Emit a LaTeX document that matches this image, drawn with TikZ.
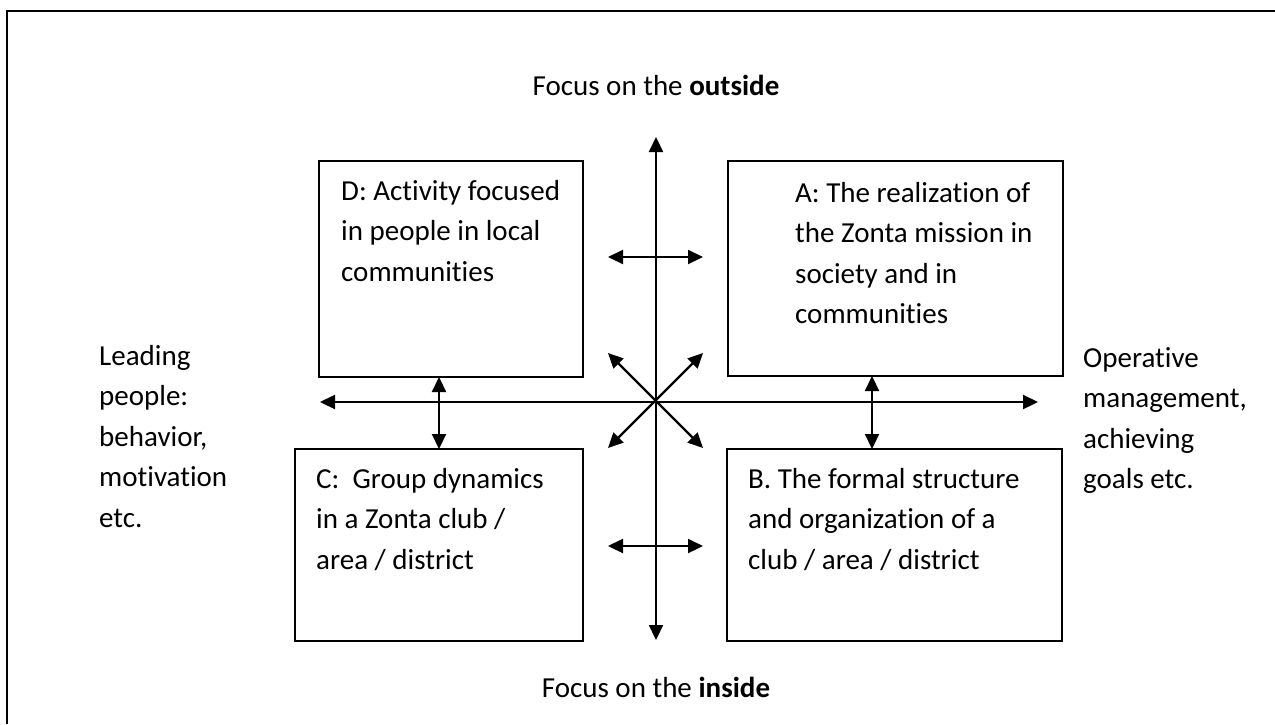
\documentclass[tikz,border=0pt]{standalone}
\usepackage{fontspec}
\setmainfont{Carlito}[Ligatures=NoCommon]
\usetikzlibrary{arrows.meta}
\begin{document}
\begin{tikzpicture}[x=1pt,y=-1pt,
  every node/.style={font=\fontsize{29}{40.5}\selectfont},
  quad/.style={draw,line width=2pt,inner sep=0pt,outer sep=0pt,anchor=north west},
  quadtext/.style={anchor=base west,inner sep=0pt,text width=#1,align=flush left},
  label/.style={anchor=base west,inner sep=0pt,text width=#1,align=flush left},
  dblarrow/.style={line width=2.2pt,{Triangle[length=15pt,width=14pt]}-{Triangle[length=15pt,width=14pt]}},
  frame/.style={line width=2pt}]
\useasboundingbox (0,0) rectangle (1275,724);

% outer frame (only the left and top edges fall on the page)
\coordinate (fbl) at (7,724);
\coordinate (ftl) at (7,11);
\coordinate (ftr) at (1275,11);
\draw[frame] (fbl) -- (ftl) -- (ftr);

% the four quadrant boxes
\node[quad,minimum width=264,minimum height=216] (D) at (319,161) {};
\node[quad,minimum width=335,minimum height=215] (A) at (728,161) {};
\node[quad,minimum width=288,minimum height=192] (C) at (295,449) {};
\node[quad,minimum width=335,minimum height=192] (B) at (727,449) {};

% box texts
\node[quadtext=240] (tD) at (341,200) {D: Activity focused\\in people in local\\communities};
\node[quadtext=260] (tA) at (795,202) {A: The realization of\\the Zonta mission in\\society and in\\communities};
\node[quadtext=260] (tC) at (316,488) {C:\ \ Group dynamics\\in a Zonta club /\\area / district};
\node[quadtext=300] (tB) at (748,488) {B. The formal structure\\and organization of a\\club / area / district};

% side labels
\node[label=170] (lft) at (99,365) {Leading\\people:\\behavior,\\motivation\\etc.};
\node[label=190] (rgt) at (1083,367) {Operative\\management,\\achieving\\goals etc.};

% top and bottom labels
\node[anchor=base,inner sep=0pt] (top) at (656,95) {Focus on the \textbf{outside}};
\node[anchor=base,inner sep=0pt] (bot) at (656,697) {Focus on the \textbf{inside}};

% axes
\coordinate (O) at (656,402);
\coordinate (axN) at (656,137);
\coordinate (axS) at (656,640);
\coordinate (axW) at (320,402);
\coordinate (axE) at (1038,402);
\draw[dblarrow] (axS) -- (axN);
\draw[dblarrow] (axW) -- (axE);

% diagonal arrows through the centre
\coordinate (nw) at (608,353);
\coordinate (ne) at (703,353);
\coordinate (sw) at (608,448);
\coordinate (se) at (703,448);
\draw[dblarrow] (nw) -- (se);
\draw[dblarrow] (ne) -- (sw);

% small horizontal arrows between the upper and lower pairs
\coordinate (uw) at (608,257);
\coordinate (ue) at (703,257);
\coordinate (lw) at (608,546);
\coordinate (le) at (703,546);
\draw[dblarrow] (uw) -- (ue);
\draw[dblarrow] (lw) -- (le);

% vertical links D--C and A--B
\coordinate (dcx) at (439,0);
\coordinate (abx) at (872,0);
\draw[dblarrow] (dcx |- D.south) -- (dcx |- C.north);
\draw[dblarrow] (abx |- A.south) -- (abx |- B.north);
\end{tikzpicture}
\end{document}
